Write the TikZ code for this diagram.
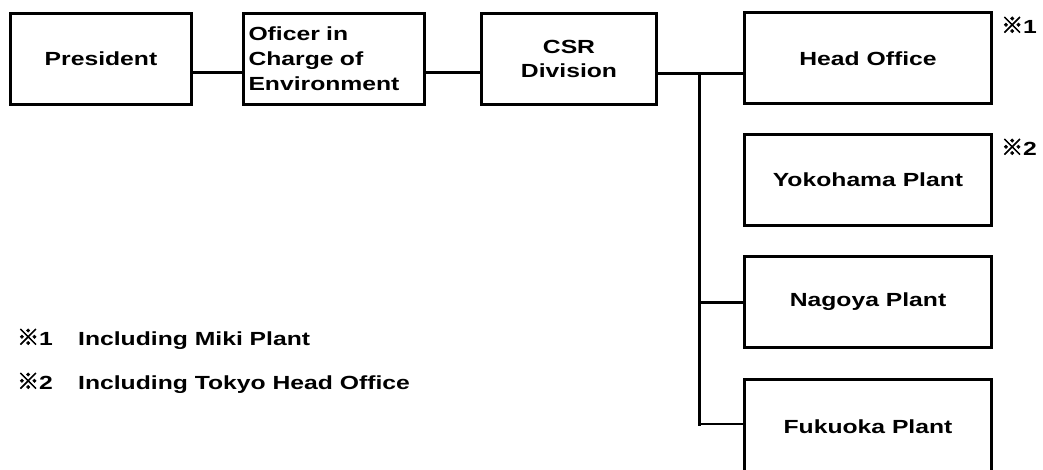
\documentclass[tikz,border=0pt]{standalone}
\usepackage{fontspec}
\setmainfont{Liberation Sans}[FakeStretch=1.3]
\newfontfamily\cjk{Noto Sans CJK JP}[FakeBold=2.5]
\newcommand{\kome}{{\cjk\fontsize{22}{22}\selectfont ※}}
\begin{document}
\begin{tikzpicture}[x=1pt,y=-1pt,
  box/.style={draw=black,line width=3pt,rectangle,inner sep=0pt,
    minimum height=91pt,font=\fontsize{19}{25}\selectfont\bfseries,align=center},
  link/.style={draw=black,line width=3pt},
  note/.style={anchor=west,inner sep=0pt,font=\fontsize{19}{25}\selectfont\bfseries}]
\useasboundingbox[fill=white] (0,0) rectangle (1043,470);
\node[box,minimum width=181pt] (pres) at (101,59) {President};
\node[box,minimum width=181pt,text width=171pt,align=left] (off) at (334,59)
  {Oficer in\\Charge of\\Environment};
\node[box,minimum width=175pt,font=\fontsize{19}{24}\selectfont\bfseries] (csr) at (569,59) {CSR\\Division};
\node[box,minimum width=247pt] (head) at (868,58.5) {Head Office};
\node[box,minimum width=247pt] (yoko) at (868,180) {Yokohama Plant};
\node[box,minimum width=247pt] (nago) at (868,302) {Nagoya Plant};
\node[box,minimum width=247pt,minimum height=95pt] (fuku) at (868,427) {Fukuoka Plant};
\node[note] (m1) at (1001,25) {\kome1};
\node[note] (m2) at (1001,147) {\kome2};
\node[note] (f1) at (17,339) {\makebox[61pt][l]{\kome1}Including Miki Plant};
\node[note] (f2) at (17,383) {\makebox[61pt][l]{\kome2}Including Tokyo Head Office};
\coordinate (split) at (699,74);
\coordinate (bottom) at (699,425.5);
\draw[link] (pres.east |- 0,73) -- (off.west |- 0,73);
\draw[link] (off.east |- 0,73) -- (csr.west |- 0,73);
\draw[link] (csr.east |- split) -- (head.west |- split);
\draw[link] (split) -- (bottom);
\draw[link] (split |- nago.west) -- (nago.west);
\draw[link,line width=2.4pt] (0,424 -| bottom) -- (fuku.west |- 0,424);
\end{tikzpicture}
\end{document}
